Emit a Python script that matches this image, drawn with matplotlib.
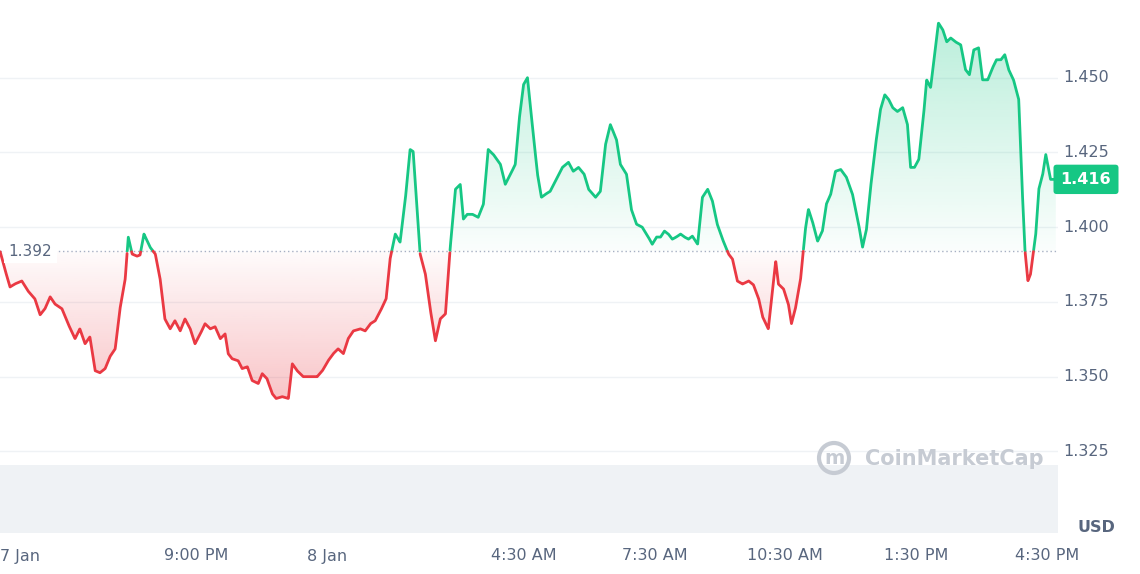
import numpy as np
import matplotlib
matplotlib.use("Agg")
import matplotlib.pyplot as plt
from matplotlib.patches import Polygon, Ellipse

hours = [0,.11,.23,.34,.50,.64,.80,.92,1.03,1.15,1.26,1.42,1.56,1.72,1.83,1.95,2.06,2.18,2.29,2.41,2.52,2.64,2.75,2.87,2.94,3.03,3.14,3.21,3.30,3.44,3.56,3.67,3.78,3.90,4.01,4.13,4.24,4.36,4.47,4.59,4.70,4.82,4.93,5.05,5.16,5.23,5.32,5.46,5.55,5.67,5.78,5.92,6.01,6.12,6.24,6.33,6.47,6.61,6.70,6.81,6.95,7.11,7.27,7.39,7.52,7.64,7.75,7.87,7.98,8.10,8.26,8.37,8.49,8.60,8.72,8.85,8.94,9.06,9.17,9.29,9.40,9.47,9.56,9.63,9.75,9.86,9.98,10.09,10.21,10.32,10.44,10.55,10.62,10.71,10.83,10.96,11.08,11.19,11.31,11.47,11.58,11.70,11.81,11.90,12.00,12.09,12.20,12.32,12.41,12.50,12.61,12.75,12.89,13.03,13.14,13.26,13.39,13.49,13.65,13.76,13.88,13.99,14.13,14.22,14.36,14.47,14.59,14.72,14.86,14.95,15.05,15.14,15.23,15.32,15.41,15.50,15.60,15.69,15.78,15.87,15.99,16.10,16.22,16.33,16.44,16.56,16.70,16.79,16.90,17.02,17.16,17.27,17.39,17.48,17.61,17.71,17.78,17.84,17.96,18.07,18.14,18.23,18.35,18.46,18.53,18.62,18.74,18.85,18.94,19.04,19.15,19.27,19.40,19.54,19.68,19.77,19.86,19.95,20.07,20.18,20.28,20.37,20.46,20.57,20.69,20.80,20.87,20.96,21.06,21.17,21.24,21.33,21.42,21.51,21.61,21.70,21.79,21.90,22.02,22.13,22.22,22.32,22.43,22.52,22.64,22.75,22.84,22.94,23.03,23.12,23.23,23.35,23.42,23.49,23.56,23.62,23.74,23.81,23.90,23.97,24.08,24.20]
prices = [1.392,1.386,1.380,1.381,1.382,1.3787,1.376,1.3707,1.3727,1.3767,1.3743,1.3727,1.3677,1.3627,1.366,1.361,1.3633,1.352,1.3513,1.3527,1.3567,1.3593,1.3727,1.3827,1.3967,1.391,1.3903,1.3907,1.3977,1.3933,1.391,1.3827,1.3693,1.366,1.3687,1.3653,1.3693,1.366,1.361,1.3643,1.3677,1.366,1.3667,1.3627,1.3643,1.3577,1.356,1.3553,1.3527,1.3533,1.3487,1.3477,1.351,1.3493,1.3443,1.3427,1.3433,1.3427,1.3543,1.352,1.350,1.350,1.350,1.352,1.3553,1.3577,1.3593,1.3577,1.3627,1.3653,1.366,1.3653,1.3677,1.3687,1.372,1.376,1.3893,1.3977,1.395,1.4093,1.426,1.4253,1.406,1.391,1.3843,1.3727,1.362,1.3693,1.371,1.3933,1.4127,1.4143,1.4027,1.4043,1.4043,1.4033,1.4077,1.426,1.4243,1.421,1.4143,1.4177,1.421,1.436,1.4477,1.450,1.4343,1.4177,1.410,1.411,1.412,1.416,1.420,1.4217,1.4187,1.420,1.4177,1.4127,1.410,1.412,1.4277,1.4343,1.4293,1.421,1.4177,1.406,1.401,1.400,1.3967,1.3943,1.3967,1.3967,1.3987,1.3977,1.396,1.3967,1.3977,1.3967,1.396,1.397,1.3943,1.410,1.4127,1.4087,1.401,1.396,1.391,1.3893,1.382,1.381,1.382,1.3807,1.376,1.370,1.366,1.3793,1.3887,1.381,1.3793,1.3743,1.3677,1.3727,1.3827,1.3993,1.406,1.402,1.3953,1.3987,1.4077,1.411,1.4187,1.4193,1.4167,1.411,1.401,1.3933,1.3993,1.4127,1.4277,1.4393,1.4443,1.4427,1.440,1.4387,1.440,1.4343,1.420,1.420,1.4227,1.4377,1.4493,1.4467,1.4577,1.4683,1.466,1.462,1.4633,1.462,1.461,1.4527,1.451,1.4593,1.460,1.4493,1.4493,1.4533,1.456,1.456,1.4577,1.4527,1.4493,1.4427,1.416,1.3927,1.382,1.3843,1.3977,1.4127,1.4177,1.4243,1.416,1.416]
baseline = 1.392
yticks = [1.325, 1.350, 1.375, 1.400, 1.425, 1.450]
xtick_hours = [0.45, 4.5, 7.5, 12.0, 15.0, 18.0, 21.0, 24.0]
xtick_labels = ["7 Jan", "9:00 PM", "8 Jan", "4:30 AM", "7:30 AM", "10:30 AM", "1:30 PM", "4:30 PM"]

GREEN = "#16c784"; RED = "#ea3943"; GREY = "#58667e"

fig = plt.figure(figsize=(11.4, 5.74), dpi=100)
ax = fig.add_axes([0, 41/574, 1058/1140, 533/574])
ymin, ymax = 1.2977, 1.476
xmin, xmax = 0, 24.25
ax.set_xlim(xmin, xmax); ax.set_ylim(ymin, ymax)
for s in ax.spines.values(): s.set_visible(False)
ax.set_xticks([]); ax.set_yticks([])

for t in yticks:
    ax.axhline(t, color="#eff2f5", lw=1, zorder=0)
ax.axhspan(ymin, 1.3205, color="#eff2f5", zorder=0.5, lw=0)

h = np.array(hours); p = np.array(prices)
xd = np.linspace(h[0], h[-1], 6000)
yd = np.interp(xd, h, p)
above = yd >= baseline

def grad_fill(mask, color, up):
    from matplotlib.colors import to_rgb
    r, g, b = to_rgb(color)
    n = 256
    a = np.linspace(0.02, 0.3, n) if up else np.linspace(0.3, 0.02, n)
    img = np.zeros((n, 1, 4)); img[:, 0, 0] = r; img[:, 0, 1] = g; img[:, 0, 2] = b; img[:, 0, 3] = a
    ext = (xmin, xmax, baseline, 1.470) if up else (xmin, xmax, 1.342, baseline)
    im = ax.imshow(img, extent=ext, origin="lower", aspect="auto", zorder=1)
    yy = np.where(mask, yd, baseline)
    verts = np.concatenate([np.column_stack([xd, yy]), [[xd[-1], baseline], [xd[0], baseline]]])
    poly = Polygon(verts, closed=True, transform=ax.transData, facecolor="none", edgecolor="none")
    ax.add_patch(poly)
    im.set_clip_path(poly)

grad_fill(above, GREEN, True)
grad_fill(~above, RED, False)

ax.plot(xd, np.where(above, yd, np.nan), color=GREEN, lw=2, zorder=3, solid_capstyle="round")
ax.plot(xd, np.where(~above, yd, np.nan), color=RED, lw=2, zorder=3, solid_capstyle="round")
ax.axhline(baseline, color="#a6b0c3", lw=1, ls=(0, (1, 2)), zorder=2)

ax.text(0.2, baseline, "1.392", fontsize=11, color="#58667e", va="center", ha="left", zorder=4,
        bbox=dict(boxstyle="square,pad=0.3", fc="white", ec="none"))

fig.text(865/1140, 1 - 459/574, "CoinMarketCap", fontsize=15, color="#c6cbd3",
         ha="left", va="center", fontweight="bold", zorder=4)
fig.patches.append(Ellipse((834/1140, 1 - 458/574), 30/1140, 30/574, transform=fig.transFigure,
                           fill=False, ec="#c6cbd3", lw=3))
fig.text(834/1140, 1 - 459/574, "m", fontsize=14, color="#c6cbd3", ha="center", va="center",
         fontweight="bold")

for t in yticks:
    fig.text(1086/1140, ax.transData.transform((0, t))[1] / 574, f"{t:.3f}", fontsize=11.5,
             color=GREY, ha="center", va="center")
yl = ax.transData.transform((0, prices[-1]))[1] / 574
fig.text(1086/1140, yl, f"{prices[-1]:.3f}", fontsize=11.5, color="white", ha="center", va="center",
         fontweight="bold", bbox=dict(boxstyle="round,pad=0.45,rounding_size=0.2", fc=GREEN, ec="none"))
fig.text(1096/1140, 1 - 527/574, "USD", fontsize=11.5, color=GREY, ha="center", va="center", fontweight="bold")

for hr, lab in zip(xtick_hours, xtick_labels):
    xf = ax.transData.transform((hr, 0))[0] / 1140
    fig.text(xf, 1 - 556/574, lab, fontsize=11.5, color=GREY, ha="center", va="center")

fig.savefig("out.png", dpi=100)
